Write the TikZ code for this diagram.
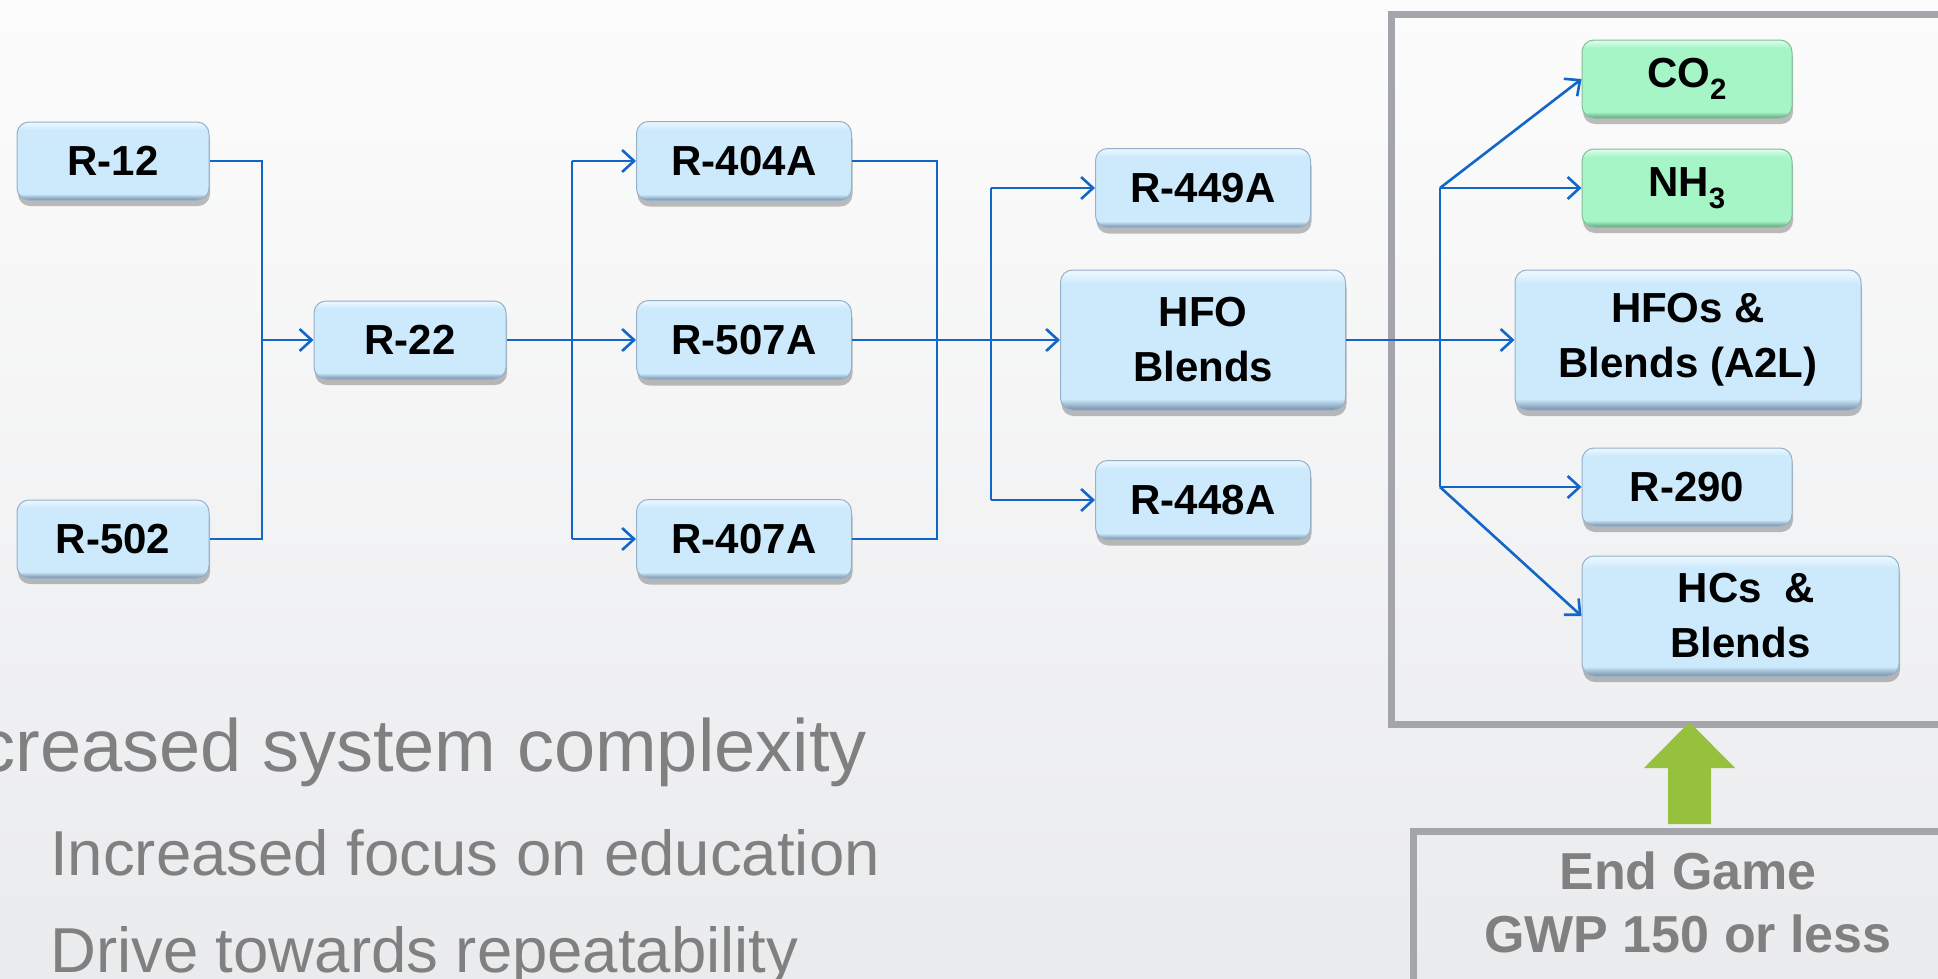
\documentclass[tikz,border=0pt]{standalone}
\usepackage{fontspec}
\setmainfont{Liberation Sans}
\usetikzlibrary{arrows.meta,shadows,calc}

\definecolor{bgtop}{RGB}{252,252,252}
\definecolor{bgbot}{RGB}{234,235,237}
\definecolor{bmid}{RGB}{205,234,252}
\definecolor{blight}{RGB}{232,246,255}
\definecolor{bdark}{RGB}{118,142,168}
\definecolor{bedge}{RGB}{150,176,202}
\definecolor{gmid}{RGB}{166,245,199}
\definecolor{glight}{RGB}{214,252,229}
\definecolor{gdark}{RGB}{100,164,126}
\definecolor{gedge}{RGB}{130,190,152}
\definecolor{wire}{RGB}{18,102,200}
\definecolor{framegray}{RGB}{162,166,171}
\definecolor{textgray}{RGB}{128,128,128}
\definecolor{upgreen}{RGB}{150,193,61}

% bevelled fills: the node box spans 25bp..75bp of the shading
\pgfdeclareverticalshading{bevelblue}{100bp}{%
  color(0bp)=(bdark); color(25bp)=(bdark); color(29bp)=(bmid);
  color(70bp)=(bmid); color(74bp)=(blight); color(100bp)=(blight)}
\pgfdeclareverticalshading{bevelgreen}{100bp}{%
  color(0bp)=(gdark); color(25bp)=(gdark); color(29bp)=(gmid);
  color(70bp)=(gmid); color(74bp)=(glight); color(100bp)=(glight)}

\tikzset{
  refbox/.style={rectangle, rounded corners=12pt, draw=bedge, line width=1pt,
    shading=bevelblue, inner sep=0pt, align=center,
    font=\fontsize{42}{55}\selectfont\bfseries,
    drop shadow={opacity=0.25, shadow xshift=1pt, shadow yshift=-6pt, fill=black}},
  greenbox/.style={refbox, draw=gedge, shading=bevelgreen},
  small/.style={minimum width=192pt, minimum height=78pt},
  mid/.style={minimum width=215pt, minimum height=79pt},
  wirepath/.style={draw=wire, line width=2.6pt},
  flow/.style={wirepath, -{Straight Barb[length=12pt,width=22pt]}},
  frame/.style={draw=framegray, line width=7pt},
  bodytext/.style={text=textgray, inner sep=0pt},
}

\begin{document}
\begin{tikzpicture}[x=1pt, y=-1pt]
\useasboundingbox (0,0) rectangle (1938,978);
\clip (0,0) rectangle (1938,978);
\shade[top color=bgtop, bottom color=bgbot] (0,0) rectangle (1938,978);

% outer frames
\node[frame, minimum width=620pt, minimum height=710pt, anchor=north west] (target) at (1388,11) {};
\node[frame, minimum width=600pt, minimum height=200pt, anchor=north west] (endbox) at (1410,828) {};
\node[text=textgray, align=center, font=\fontsize{52}{63}\selectfont\bfseries] (endtext) at (1688,902)
  {End Game\\GWP 150 or less};

% green arrow from the end-game box up to the frame
\coordinate (gtip) at (1689.5,722);
\coordinate (gbase) at (1689.5,824);
\fill[upgreen] (gtip) -- ($(gtip)+(45.5,46)$) -- ($(gtip)+(21.5,46)$) -- ($(gbase)+(21.5,0)$)
  -- ($(gbase)+(-21.5,0)$) -- ($(gtip)+(-21.5,46)$) -- ($(gtip)+(-45.5,46)$) -- cycle;

% first generation
\node[refbox, small] (r12) at (113,161) {R-12};
\node[refbox, small] (r502) at (113,539) {R-502};
\node[refbox, small] (r22) at (410,340) {R-22};

% second generation
\node[refbox, mid] (r404) at (744,161) {R-404A};
\node[refbox, mid] (r507) at (744,340) {R-507A};
\node[refbox, mid] (r407) at (744,539) {R-407A};

% third generation
\node[refbox, mid] (r449) at (1203,188) {R-449A};
\node[refbox, minimum width=285pt, minimum height=140pt] (hfo) at (1203,340) {HFO\\Blends};
\node[refbox, mid] (r448) at (1203,500) {R-448A};

% end game candidates
\node[greenbox, minimum width=210pt, minimum height=78pt] (co2) at (1687,79) {CO\textsubscript{2}};
\node[greenbox, minimum width=210pt, minimum height=78pt] (nh3) at (1687,188) {NH\textsubscript{3}};
\node[refbox, minimum width=346pt, minimum height=140pt] (hfos) at (1688,340) {HFOs \&\\Blends (A2L)};
\node[refbox, minimum width=210pt, minimum height=78pt] (r290) at (1687,487) {R-290};
\node[refbox, minimum width=317pt, minimum height=120pt] (hcs) at (1740.5,616) {\hspace*{12pt}HCs\ \ \&\\Blends};

% junction points
\coordinate (j1) at (262,340);
\coordinate (j2) at (572,340);
\coordinate (j3) at (937,340);
\coordinate (j4) at (991,340);
\coordinate (j5top) at (1440,188);
\coordinate (j5bot) at (1440,487);

% R-12 / R-502 -> R-22
\draw[wirepath] (r12.east) -| (j1) |- (r502.east);
\draw[flow] (j1) -- (r22.west);

% R-22 -> second generation
\draw[wirepath] (r22.east) -- (j2);
\draw[wirepath] (j2 |- r404.west) -- (j2 |- r407.west);
\draw[flow] (j2 |- r404.west) -- (r404.west);
\draw[flow] (j2) -- (r507.west);
\draw[flow] (j2 |- r407.west) -- (r407.west);

% second generation -> third generation
\draw[wirepath] (r404.east) -| (j3) |- (r407.east);
\draw[flow] (r507.east) -- (hfo.west);
\draw[wirepath] (j4 |- r449.west) -- (j4 |- r448.west);
\draw[flow] (j4 |- r449.west) -- (r449.west);
\draw[flow] (j4 |- r448.west) -- (r448.west);

% HFO blends -> end game
\draw[flow] (hfo.east) -- (hfos.west);
\draw[wirepath] (j5top) -- (j5bot);
\draw[flow] (j5top) -- (co2.west);
\draw[flow] (j5top) -- (nh3.west);
\draw[flow] (j5bot) -- (r290.west);
\draw[flow] (j5bot) -- (hcs.west);

% bullet text
\node[bodytext, anchor=base east, font=\fontsize{74}{80}\selectfont] (l1) at (867,771) {Increased system complexity};
\node[bodytext, anchor=base west, font=\fontsize{63.5}{70}\selectfont] (l2) at (50,875) {Increased focus on education};
\node[bodytext, anchor=base west, font=\fontsize{63.5}{70}\selectfont] (l3) at (50,972) {Drive towards repeatability};
\end{tikzpicture}
\end{document}
